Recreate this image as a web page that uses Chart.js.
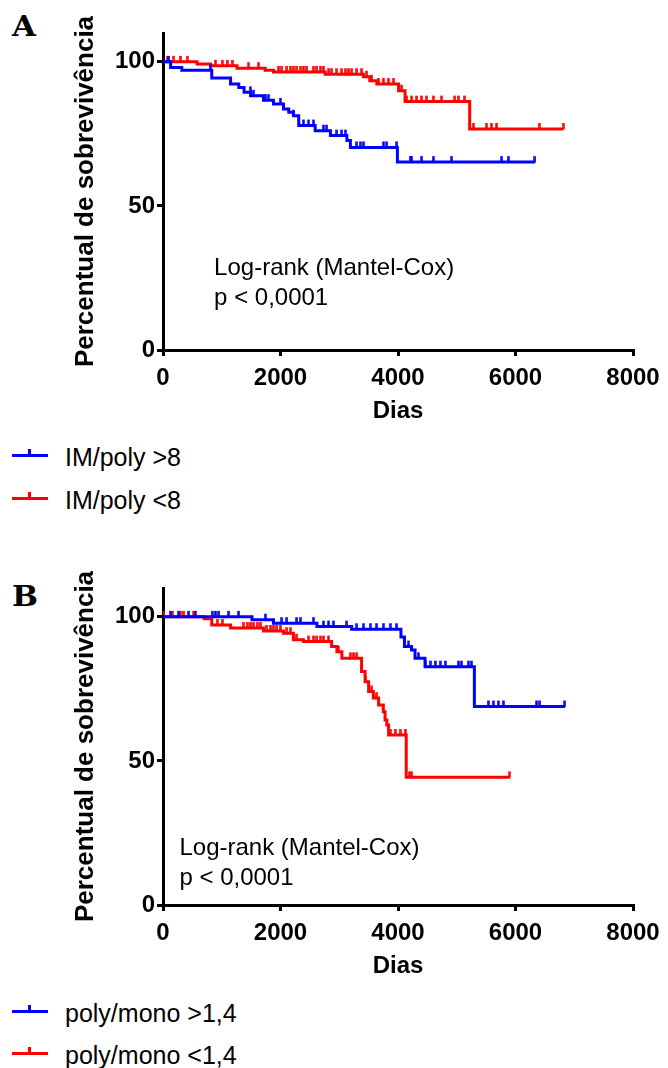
<!DOCTYPE html>
<html>
<head>
<meta charset="utf-8">
<script src="https://cdn.jsdelivr.net/npm/chart.js@4.4.1/dist/chart.umd.min.js"></script>
<style>
  html, body { margin: 0; padding: 0; background: #fff; }
  #page { position: relative; width: 668px; height: 1068px; overflow: hidden; }
  #page canvas { position: absolute; left: 0; }
  .tag { position: absolute; left: 12px; font: bold 28px "DejaVu Serif", "Liberation Serif", serif; color: #000; line-height: 28px; transform: scaleX(1.1); transform-origin: left top; }
  .row { position: absolute; left: 12px; height: 28px; line-height: 28px; font: 25px "Liberation Sans", Arial, Helvetica, sans-serif; color: #000; white-space: nowrap; }
  .mark { position: absolute; left: 0; top: 11px; width: 36px; height: 3px; }
  .mark::after { content: ""; position: absolute; left: 16px; top: -5px; width: 3px; height: 6px; background: inherit; }
  .row span { position: absolute; left: 53px; top: 0; }
</style>
</head>
<body>
<div id="page">
  <div class="tag" style="top:13px">A</div>
  <canvas id="chartA" width="668" height="430" style="top:0"></canvas>
  <div class="row" style="top:443px"><div class="mark" style="background:#0000ff"></div><span>IM/poly &gt;8</span></div>
  <div class="row" style="top:486px"><div class="mark" style="background:#ff0000"></div><span>IM/poly &lt;8</span></div>

  <div class="tag" style="top:583px">B</div>
  <canvas id="chartB" width="668" height="430" style="top:555px"></canvas>
  <div class="row" style="top:999px"><div class="mark" style="background:#0000ff"></div><span>poly/mono &gt;1,4</span></div>
  <div class="row" style="top:1041px"><div class="mark" style="background:#ff0000"></div><span>poly/mono &lt;1,4</span></div>
</div>
<script>
// Panel A: IM/poly >8 (blue) vs IM/poly <8 (red)
const aBlueTimes = [0, 130, 320, 830, 1150, 1290, 1380, 1490, 1710, 1880, 2050, 2140, 2220, 2310, 2590, 2850, 3130, 3190, 3990, 6330];
const aBlueSurv = [100, 98, 97.1, 94.4, 92.3, 91.1, 89.4, 88.2, 86.7, 85.4, 83.6, 82.5, 81.3, 77.9, 76.1, 74.4, 72.7, 70.3, 65.2, 65.2];
const aBlueCensored = [99, 807, 1487, 1543, 1741, 1798, 1996, 2053, 2222, 2392, 2477, 2562, 2732, 2789, 2959, 3044, 3101, 3299, 3356, 3412, 3752, 3809, 3979, 4205, 4234, 4404, 4601, 4913, 5763, 5876, 6330];

const aRedTimes = [0, 580, 810, 1260, 1740, 1880, 2760, 3410, 3520, 3640, 4010, 4120, 5220, 6810];
const aRedSurv = [100, 99.2, 98.6, 97.8, 97.1, 96.5, 95.7, 94.8, 93.4, 92.3, 90.0, 86.2, 76.7, 76.7];
const aRedCensored = [71, 184, 297, 411, 892, 1005, 1090, 1175, 1458, 1628, 1968, 2025, 2110, 2166, 2223, 2279, 2336, 2393, 2449, 2563, 2619, 2676, 2732, 2817, 2874, 2959, 3044, 3101, 3157, 3214, 3299, 3384, 3469, 3554, 3667, 3752, 3837, 3922, 4063, 4149, 4234, 4319, 4404, 4489, 4602, 4743, 4970, 5026, 5139, 5281, 5507, 5592, 5677, 6402, 6810];

// Panel B: poly/mono >1,4 (blue) vs poly/mono <1,4 (red)
const bBlueTimes = [0, 1515, 1880, 2620, 3210, 4050, 4110, 4230, 4290, 4460, 5300, 6840];
const bBlueSurv = [100, 99, 97.8, 96.6, 95.7, 93, 89.7, 88.5, 85.6, 82.7, 68.9, 68.9];
const bBlueCensored = [127, 269, 439, 552, 835, 892, 949, 1118, 1288, 1741, 2025, 2110, 2279, 2336, 2562, 2732, 2817, 2902, 3129, 3299, 3412, 3526, 3639, 3752, 3865, 3979, 4177, 4347, 4460, 4546, 4631, 4715, 4800, 5027, 5083, 5196, 5253, 5536, 5621, 5706, 5791, 6357, 6414, 6840];

const bRedTimes = [0, 700, 830, 1150, 1710, 2050, 2220, 2390, 2870, 2960, 3045, 3380, 3440, 3500, 3580, 3670, 3750, 3780, 3810, 3840, 4140, 5900];
const bRedSurv = [100, 99.3, 97.2, 96.1, 95.1, 94.3, 92, 91.4, 89.7, 87.9, 85.6, 81, 77.5, 74.1, 71.8, 69.4, 67.1, 64.2, 62.5, 59, 44.3, 44.3];
const bRedCensored = [14, 156, 297, 354, 524, 920, 1005, 1373, 1430, 1487, 1543, 1600, 1656, 1770, 1826, 1883, 1940, 1996, 2110, 2166, 2280, 2478, 2563, 2620, 2676, 2733, 2817, 2987, 3186, 3242, 3299, 3441, 3554, 3639, 3865, 3950, 4035, 4120, 4194, 4234, 5900];

const xTicks = [0, 2000, 4000, 6000, 8000];
const yTicks = [0, 50, 100];

const BLUE = "#0000ff";
const RED = "#ff0000";
const SANS = "'Liberation Sans', Arial, Helvetica, sans-serif";

const survivalAt = (t, times, surv) => {
    let s = surv[0];
    for (let i = 0; i < times.length; i++) {
        if (times[i] <= t) s = surv[i];
    }
    return s;
};

const censorMark = (color) => {
    const c = document.createElement("canvas");
    c.width = 3;
    c.height = 14;
    const g = c.getContext("2d");
    g.fillStyle = color;
    g.fillRect(0.25, 1, 2.5, 6.5);
    return c;
};

const stepSet = (times, surv, color) => ({
    data: times.map((t, i) => ({ x: t, y: surv[i] })),
    borderColor: color,
    borderWidth: 3,
    stepped: "before",
    pointRadius: 0,
    fill: false,
});

const censorSet = (cens, times, surv, color) => ({
    data: cens.map((t) => ({ x: t, y: survivalAt(t, times, surv) })),
    showLine: false,
    pointStyle: censorMark(color),
    pointRadius: 3,
    borderColor: color,
    backgroundColor: color,
});

// log-rank note written at data coordinates
const notePlugin = {
    id: "kmNote",
    afterDatasetsDraw(chart, args, opts) {
        const { ctx, scales } = chart;
        ctx.save();
        ctx.fillStyle = "#000";
        ctx.font = "24px " + SANS;
        ctx.textAlign = "left";
        ctx.textBaseline = "alphabetic";
        const x = scales.x.getPixelForValue(opts.x);
        opts.lines.forEach((line, i) => {
            ctx.fillText(line, x, scales.y.getPixelForValue(opts.y[i]));
        });
        ctx.restore();
    },
};

const tickFont = { family: SANS, size: 24, weight: "bold" };

const makePanel = (id, sets, note) => {
    const ctx = document.getElementById(id);
    return new Chart(ctx, {
        type: "line",
        data: { datasets: sets },
        plugins: [notePlugin],
        options: {
            responsive: false,
            animation: false,
            events: [],
            layout: { padding: { left: 60, top: 33, right: 35, bottom: 0 } },
            scales: {
                x: {
                    type: "linear",
                    min: 0,
                    max: 8000,
                    afterBuildTicks: (s) => { s.ticks = xTicks.map((v) => ({ value: v })); },
                    afterFit: (s) => { s.height = 80; },
                    ticks: { color: "#000", font: tickFont, padding: 8, maxRotation: 0, autoSkip: false, callback: (v) => String(v) },
                    grid: { drawOnChartArea: false, drawTicks: true, tickLength: 6, color: "#000", lineWidth: 3 },
                    border: { color: "#000", width: 3 },
                    title: { display: true, text: "Dias", color: "#000", font: tickFont, padding: { top: 0, bottom: 4 } },
                },
                y: {
                    type: "linear",
                    min: 0,
                    max: 110,
                    afterBuildTicks: (s) => { s.ticks = yTicks.map((v) => ({ value: v })); },
                    afterFit: (s) => { s.width = 103; },
                    ticks: { color: "#000", font: tickFont, padding: 2, callback: (v) => String(v) },
                    grid: { drawOnChartArea: false, drawTicks: true, tickLength: 6, color: "#000", lineWidth: 3 },
                    border: { color: "#000", width: 3 },
                    title: {
                        display: true,
                        text: "Percentual de sobrevivência",
                        color: "#000",
                        font: { family: SANS, size: 26, weight: "bold" },
                        padding: { top: 10, bottom: 0 },
                    },
                },
            },
            plugins: {
                legend: { display: false },
                tooltip: { enabled: false },
                kmNote: note,
            },
        },
    });
};

makePanel("chartA", [
    stepSet(aBlueTimes, aBlueSurv, BLUE),
    censorSet(aBlueCensored, aBlueTimes, aBlueSurv, BLUE),
    stepSet(aRedTimes, aRedSurv, RED),
    censorSet(aRedCensored, aRedTimes, aRedSurv, RED),
], { x: 870, y: [26, 15.6], lines: ["Log-rank (Mantel-Cox)", "p < 0,0001"] });

makePanel("chartB", [
    stepSet(bBlueTimes, bBlueSurv, BLUE),
    censorSet(bBlueCensored, bBlueTimes, bBlueSurv, BLUE),
    stepSet(bRedTimes, bRedSurv, RED),
    censorSet(bRedCensored, bRedTimes, bRedSurv, RED),
], { x: 280, y: [17.4, 7], lines: ["Log-rank (Mantel-Cox)", "p < 0,0001"] });
</script>
</body>
</html>
